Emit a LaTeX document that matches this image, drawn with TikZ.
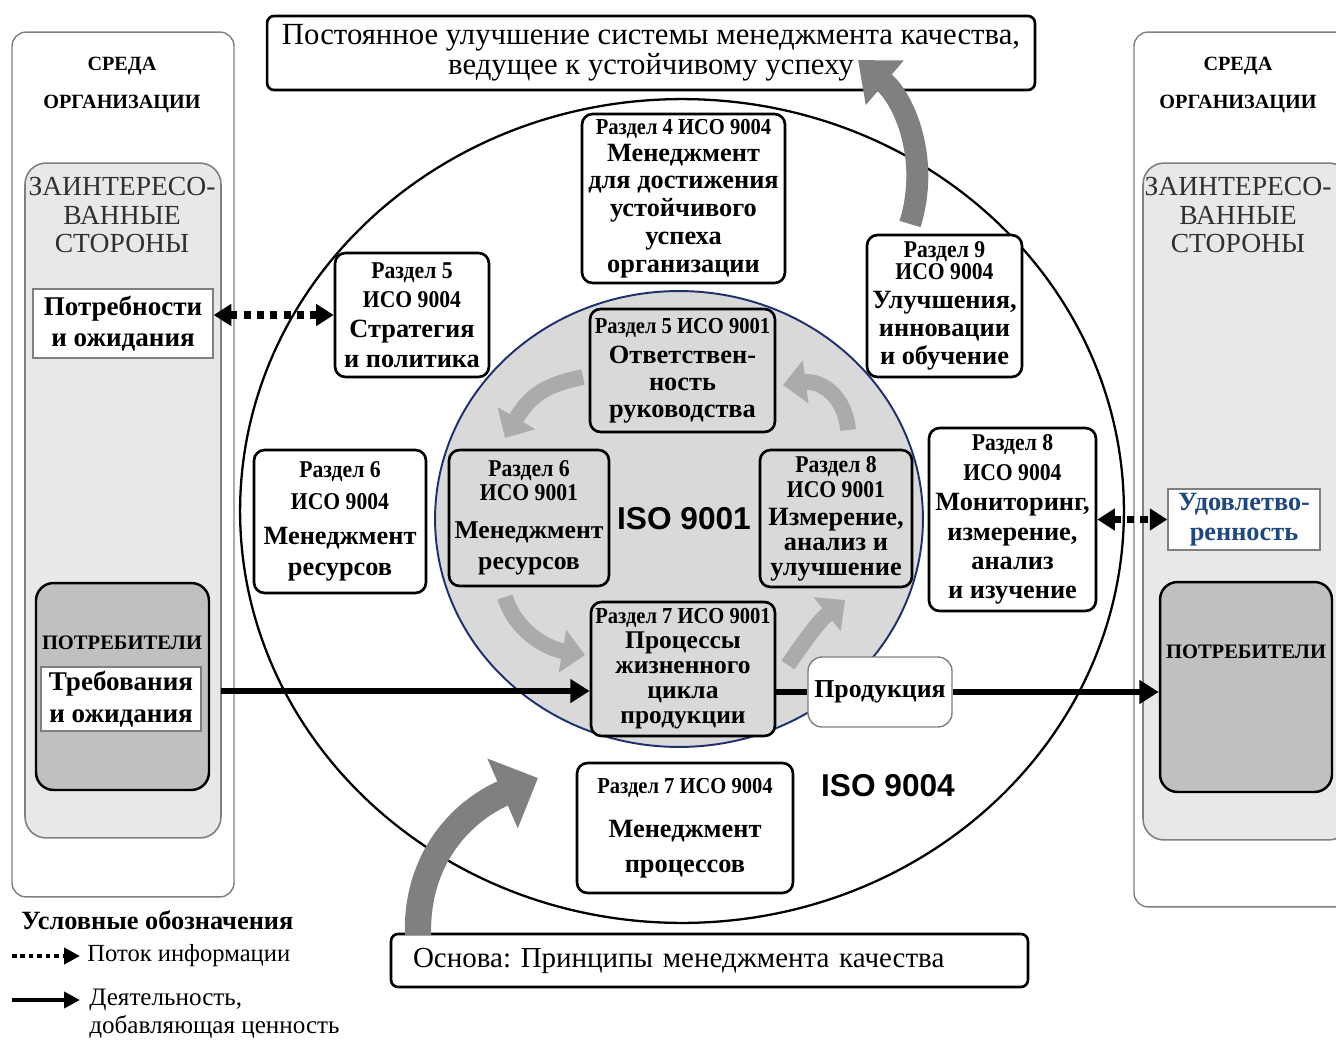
\documentclass[tikz,border=0pt]{standalone}
\usepackage{fontspec}
\setmainfont{Liberation Serif}
\newfontfamily\condfont[FakeStretch=0.9]{Liberation Serif}
\newfontfamily\isofont{Liberation Sans}
\usetikzlibrary{arrows.meta,shapes.geometric}
\definecolor{envline}{HTML}{7F7F7F}
\definecolor{zintfill}{HTML}{E8E8E8}
\definecolor{custfill}{HTML}{C0C0C0}
\definecolor{isofill}{HTML}{D9D9D9}
\definecolor{isoline}{HTML}{1F2F6B}
\definecolor{ztext}{HTML}{303030}
\definecolor{satblue}{HTML}{1F497D}
\definecolor{cycgray}{HTML}{ABABAB}
\definecolor{biggray}{HTML}{808080}
\newcommand\hdf{\condfont\bfseries\fontsize{13}{14}\selectfont}
\newcommand\hds{\condfont\bfseries\fontsize{13.7}{14}\selectfont}
\newcommand\bdf[2]{\bfseries\fontsize{#1}{#2}\selectfont}
\frenchspacing
\begin{document}
\begin{tikzpicture}[x=0.02cm,y=-0.02cm]
\tikzstyle{every node}+=[inner sep=0pt]
\tikzstyle{env}=[draw=envline,line width=0.8pt,rounded corners=8pt,fill=white]
\tikzstyle{zint}=[draw=envline,line width=0.9pt,rounded corners=12pt,fill=zintfill]
\tikzstyle{cust}=[draw=black,line width=1.4pt,rounded corners=10pt,fill=custfill]
\tikzstyle{note}=[draw=envline,line width=0.8pt,fill=white,align=center]
\tikzstyle{blk}=[draw,line width=1.5pt,rounded corners=6pt,align=center]
\tikzstyle{b9004}=[blk,fill=white]
\tikzstyle{b9001}=[blk,fill=isofill]
\tikzstyle{info}=[line width=4pt,dash pattern=on 4pt off 3.6pt,{Triangle[length=10pt,width=12pt]}-{Triangle[length=10pt,width=12pt]}]
\tikzstyle{act}=[line width=3.4pt,-{Triangle[length=11pt,width=13pt]}]
\tikzstyle{cyc}=[line width=9pt,draw=cycgray,-{Triangle[length=13pt,width=24pt]}]
\tikzstyle{big}=[draw=biggray,-{Triangle[length=20pt,width=32pt]}]
\useasboundingbox (0,0) rectangle (1336,1041);
\begin{scope}
\clip (0,0) rectangle (1336,1041);
\node[env,minimum width=4.44cm,minimum height=17.3cm] (envL) at (123,464.5) {};
\node[zint,minimum width=3.92cm,minimum height=13.5cm] (zintL) at (123,500.5) {};
\node[font=\bfseries\fontsize{11.5}{21.5}\selectfont,align=center] (envLt) at (122,85) {СРЕДА\\ОРГАНИЗАЦИИ};
\node[font=\fontsize{15.7}{16.4}\selectfont,text=ztext,align=center] (zintLt) at (122,215) {ЗАИНТЕРЕСО-\\ВАННЫЕ\\СТОРОНЫ};
\node[note,minimum width=3.6cm,minimum height=1.38cm,font=\bdf{15.4}{18}] (needs) at (123,323.5) {Потребности\\и ожидания};
\node[cust,minimum width=3.46cm,minimum height=4.14cm] (custL) at (122.5,686.5) {};
\node[font=\bfseries\fontsize{11.7}{14}\selectfont] (custLt) at (122,643) {ПОТРЕБИТЕЛИ};
\node[note,minimum width=3.2cm,minimum height=1.28cm,font=\bdf{15.4}{18}] (reqs) at (121,699) {Требования\\и ожидания};
\node[env,minimum width=4.32cm,minimum height=17.5cm] (envR) at (1242,469.5) {};
\node[zint,minimum width=4.14cm,minimum height=13.54cm] (zintR) at (1246.5,501.5) {};
\node[font=\bfseries\fontsize{11.5}{21.5}\selectfont,align=center] (envRt) at (1238,85) {СРЕДА\\ОРГАНИЗАЦИИ};
\node[font=\fontsize{15.7}{16.4}\selectfont,text=ztext,align=center] (zintRt) at (1238,215) {ЗАИНТЕРЕСО-\\ВАННЫЕ\\СТОРОНЫ};
\node[note,minimum width=3.04cm,minimum height=1.22cm,font=\bdf{15}{17},text=satblue] (sat) at (1244,519.5) {Удовлетво-\\ренность};
\node[cust,minimum width=3.44cm,minimum height=4.2cm] (custR) at (1246,687) {};
\node[font=\bfseries\fontsize{11.7}{14}\selectfont] (custRt) at (1246,652) {ПОТРЕБИТЕЛИ};
\node[draw,ellipse,line width=1.3pt,minimum width=17.68cm,minimum height=16.48cm] (c9004) at (682,511) {};
\node[ellipse,draw=isoline,line width=1.1pt,fill=isofill,minimum width=9.76cm,minimum height=9.12cm] (c9001) at (679,519) {};
\node[font=\isofont\bfseries\fontsize{18}{20}\selectfont] (l9001) at (684,519) {ISO 9001};
\node[font=\isofont\bfseries\fontsize{18}{20}\selectfont] (l9004) at (888,786) {ISO 9004};
\coordinate (cy1s) at (583,377);
\coordinate (cy1e) at (505,438);
\coordinate (cy2s) at (848,430);
\coordinate (cy2e) at (783,385);
\coordinate (cy3s) at (505,597);
\coordinate (cy3e) at (585,655);
\coordinate (cy4s) at (788,665);
\coordinate (cy4e) at (845,600);
\draw[cyc] (cy1s) .. controls (545,385) and (530,395) .. (cy1e);
\draw[cyc] (cy2s) .. controls (845,395) and (820,380) .. (cy2e);
\draw[cyc] (cy3s) .. controls (515,630) and (545,648) .. (cy3e);
\draw[cyc] (cy4s) .. controls (805,640) and (820,620) .. (cy4e);
\node[blk,fill=white,rounded corners=4pt,minimum width=15.36cm,minimum height=1.48cm,font=\fontsize{17.5}{17}\selectfont] (goal) at (651,53) {Постоянное улучшение системы менеджмента качества,\\ведущее к устойчивому успеху};
\node[blk,fill=white,rounded corners=4pt,align=left,text width=11.86cm,inner xsep=0.44cm,minimum height=1.06cm,font=\fontsize{16.5}{17}\selectfont] (base) at (709.5,960.5) {Основа: Принципы менеджмента качества};
\node[b9004,minimum width=4.06cm,minimum height=3.38cm,font=\bdf{15}{15.8pt}] (r4) at (683.5,198.5) {{\hdf Раздел 4 ИСО 9004}\\[-0.5pt]Менеджмент\\для достижения\\устойчивого\\успеха\\организации};
\node[b9004,minimum width=3.08cm,minimum height=2.48cm,font=\bdf{15}{16.8pt}] (r5b) at (412,315) {{\hds Раздел 5}\\{\hds ИСО 9004}\\Стратегия\\и политика};
\node[b9004,minimum width=3.44cm,minimum height=2.86cm,font=\bdf{15}{17.6pt}] (r6b) at (340,521.5) {{\hds Раздел 6}\\[0.5pt]{\hds ИСО 9004}\\[2.8pt]Менеджмент\\ресурсов};
\node[b9004,minimum width=3.1cm,minimum height=2.84cm,font=\bdf{15}{16pt}] (r9b) at (944.5,306) {{\hds Раздел 9}\\[-3.5pt]{\hds ИСО 9004}\\Улучшения,\\инновации\\и обучение};
\node[b9004,minimum width=3.34cm,minimum height=3.66cm,font=\bdf{15}{16.6pt}] (r8b) at (1012.5,519.5) {{\hds Раздел 8}\\{\hds ИСО 9004}\\[1pt]Мониторинг,\\измерение,\\анализ\\и изучение};
\node[b9004,minimum width=4.32cm,minimum height=2.6cm,font=\bdf{15}{19.8pt}] (r7b) at (685,828) {{\hdf Раздел 7 ИСО 9004}\\[5.7pt]Менеджмент\\процессов};
\node[b9001,minimum width=3.7cm,minimum height=2.46cm,font=\bdf{15}{15.3pt}] (a5) at (682.5,370.5) {{\hdf Раздел 5 ИСО 9001}\\[1.7pt]Ответствен-\\ность\\руководства};
\node[b9001,minimum width=3.2cm,minimum height=2.72cm,font=\bdf{14.6}{17.6pt}] (a6) at (529,518) {{\hds Раздел 6}\\[-4pt]{\hds ИСО 9001}\\[4pt]Менеджмент\\ресурсов};
\node[b9001,minimum width=3.04cm,minimum height=2.74cm,font=\bdf{15}{14.2pt}] (a8) at (836,518.5) {{\hds Раздел 8}\\{\hds ИСО 9001}\\[1.7pt]Измерение,\\анализ и\\улучшение};
\node[b9001,minimum width=3.68cm,minimum height=2.68cm,font=\bdf{14.5}{14.2pt}] (a7) at (683,669) {{\hdf Раздел 7 ИСО 9001}\\Процессы\\жизненного\\цикла\\продукции};
\node[note,rounded corners=8pt,minimum width=2.88cm,minimum height=1.4cm,font=\bdf{14.7}{16}] (prod) at (880,692) {Продукция};
\draw[info] (needs.east |- r5b.west) -- (r5b.west);
\draw[info] (r8b.east) -- (r8b.east -| sat.west);
\coordinate (inL) at (221,691);
\draw[act] (inL) -- (inL -| a7.west);
\draw[line width=3.4pt] (prod.west -| a7.east) -- (prod.west);
\draw[act] (prod.east) -- (prod.east -| custR.west);
\coordinate (upS) at (910,224);
\coordinate (upE) at (858,60);
\draw[big,line width=12.5pt] (upS) .. controls (930,160) and (905,100) .. (upE);
\coordinate (dnS) at (418,935);
\coordinate (dnE) at (538,778);
\draw[big,line width=15pt,-{Triangle[length=22pt,width=42pt]}] (dnS) .. controls (416,860) and (460,812) .. (dnE);
\node[font=\bfseries\fontsize{15}{16}\selectfont,anchor=west] (lgd) at (21,920) {Условные обозначения};
\coordinate (lg1a) at (12,956);
\coordinate (lg1b) at (80,956);
\draw[line width=2.6pt,dash pattern=on 2.6pt off 2.2pt,-{Triangle[length=9pt,width=9pt]}] (lg1a) -- (lg1b);
\node[anchor=west,font=\fontsize{14}{16}\selectfont] (lg1t) at (87,956) {Поток информации};
\coordinate (lg2a) at (12,1000);
\coordinate (lg2b) at (80,1000);
\draw[line width=2.2pt,-{Triangle[length=9pt,width=9pt]}] (lg2a) -- (lg2b);
\node[anchor=west,align=left,font=\fontsize{14.3}{16}\selectfont] (lg2t) at (89,1014) {Деятельность,\\добавляющая ценность};
\end{scope}
\end{tikzpicture}
\end{document}
